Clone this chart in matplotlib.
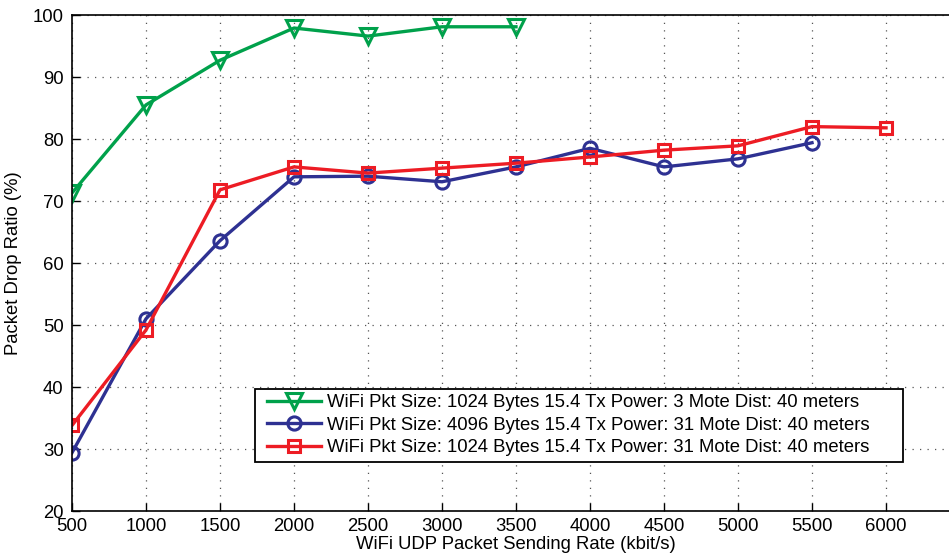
import matplotlib.pyplot as plt
from matplotlib.patches import Rectangle

plt.rcParams['font.family'] = ['Liberation Sans', 'DejaVu Sans']

# sending rates (kbit/s)
rate_green = [500, 1000, 1500, 2000, 2500, 3000, 3500]
rate_blue = [500, 1000, 1500, 2000, 2500, 3000, 3500, 4000, 4500, 5000, 5500]
rate_red = [500, 1000, 1500, 2000, 2500, 3000, 3500, 4000, 4500, 5000, 5500, 6000]

# packet drop ratio (%)
drop_green = [71.3, 85.5, 92.7, 97.9, 96.6, 98.1, 98.1]
drop_blue = [29.4, 51.0, 63.6, 73.9, 74.0, 73.1, 75.5, 78.5, 75.5, 76.8, 79.4]
drop_red = [33.8, 49.2, 71.8, 75.5, 74.5, 75.3, 76.1, 77.1, 78.2, 78.9, 82.0, 81.8]

labels = ['WiFi Pkt Size: 1024 Bytes 15.4 Tx Power: 3 Mote Dist: 40 meters',
          'WiFi Pkt Size: 4096 Bytes 15.4 Tx Power: 31 Mote Dist: 40 meters',
          'WiFi Pkt Size: 1024 Bytes 15.4 Tx Power: 31 Mote Dist: 40 meters']

fs = 13.3

fig = plt.figure(figsize=(9.49, 5.59), dpi=100)
# axes runs past the right edge, like the cropped original
ax = fig.add_axes([72 / 949, 48 / 559, 888 / 949, 496 / 559])

ax.plot(rate_green, drop_green, color='#00a14b', lw=2.4, marker='v', ms=11,
        mfc='none', mew=2.2, label=labels[0])
ax.plot(rate_blue, drop_blue, color='#2e3192', lw=2.4, marker='o', ms=9.5,
        mfc='none', mew=2.2, label=labels[1])
ax.plot(rate_red, drop_red, color='#ed1c24', lw=2.4, marker='s', ms=9,
        mfc='none', mew=2.2, label=labels[2])

ax.set_xlim(500, 6500)
ax.set_ylim(20, 100)
ax.set_xticks(range(500, 6001, 500))
ax.set_yticks(range(20, 101, 10))
ax.tick_params(direction='in', length=6, labelsize=fs, width=1)
ax.tick_params(axis='x', pad=5)
ax.tick_params(axis='y', pad=6)
ax.grid(True, linestyle=(0, (1, 5)), color='#555555', lw=0.9)
for s in ax.spines.values():
    s.set_linewidth(1.2)

ax.set_xlabel('WiFi UDP Packet Sending Rate (kbit/s)', fontsize=fs, labelpad=1)
ax.set_ylabel('Packet Drop Ratio (%)', fontsize=fs, labelpad=8)

leg = ax.legend(loc='lower left', bbox_to_anchor=(0.2133, 0.099), fontsize=fs,
                frameon=False, handlelength=2.9, borderpad=0.3,
                labelspacing=0.3, handletextpad=0.35, borderaxespad=0)

# MATLAB-style legend box: extra room on the right side of the text
fig.canvas.draw()
bb = leg.get_window_extent()
W, H = fig.bbox.width, fig.bbox.height
x0, y0 = bb.x0 - 6, bb.y0
w, h = bb.width + 6 + 28, bb.height
box = Rectangle((x0 / W, y0 / H), w / W, h / H, transform=fig.transFigure,
                facecolor='white', edgecolor='black', lw=1.3, zorder=4)
ax.add_artist(box)
box.set_clip_on(False)
leg.set_zorder(5)

fig.savefig('out.png', dpi=100)
